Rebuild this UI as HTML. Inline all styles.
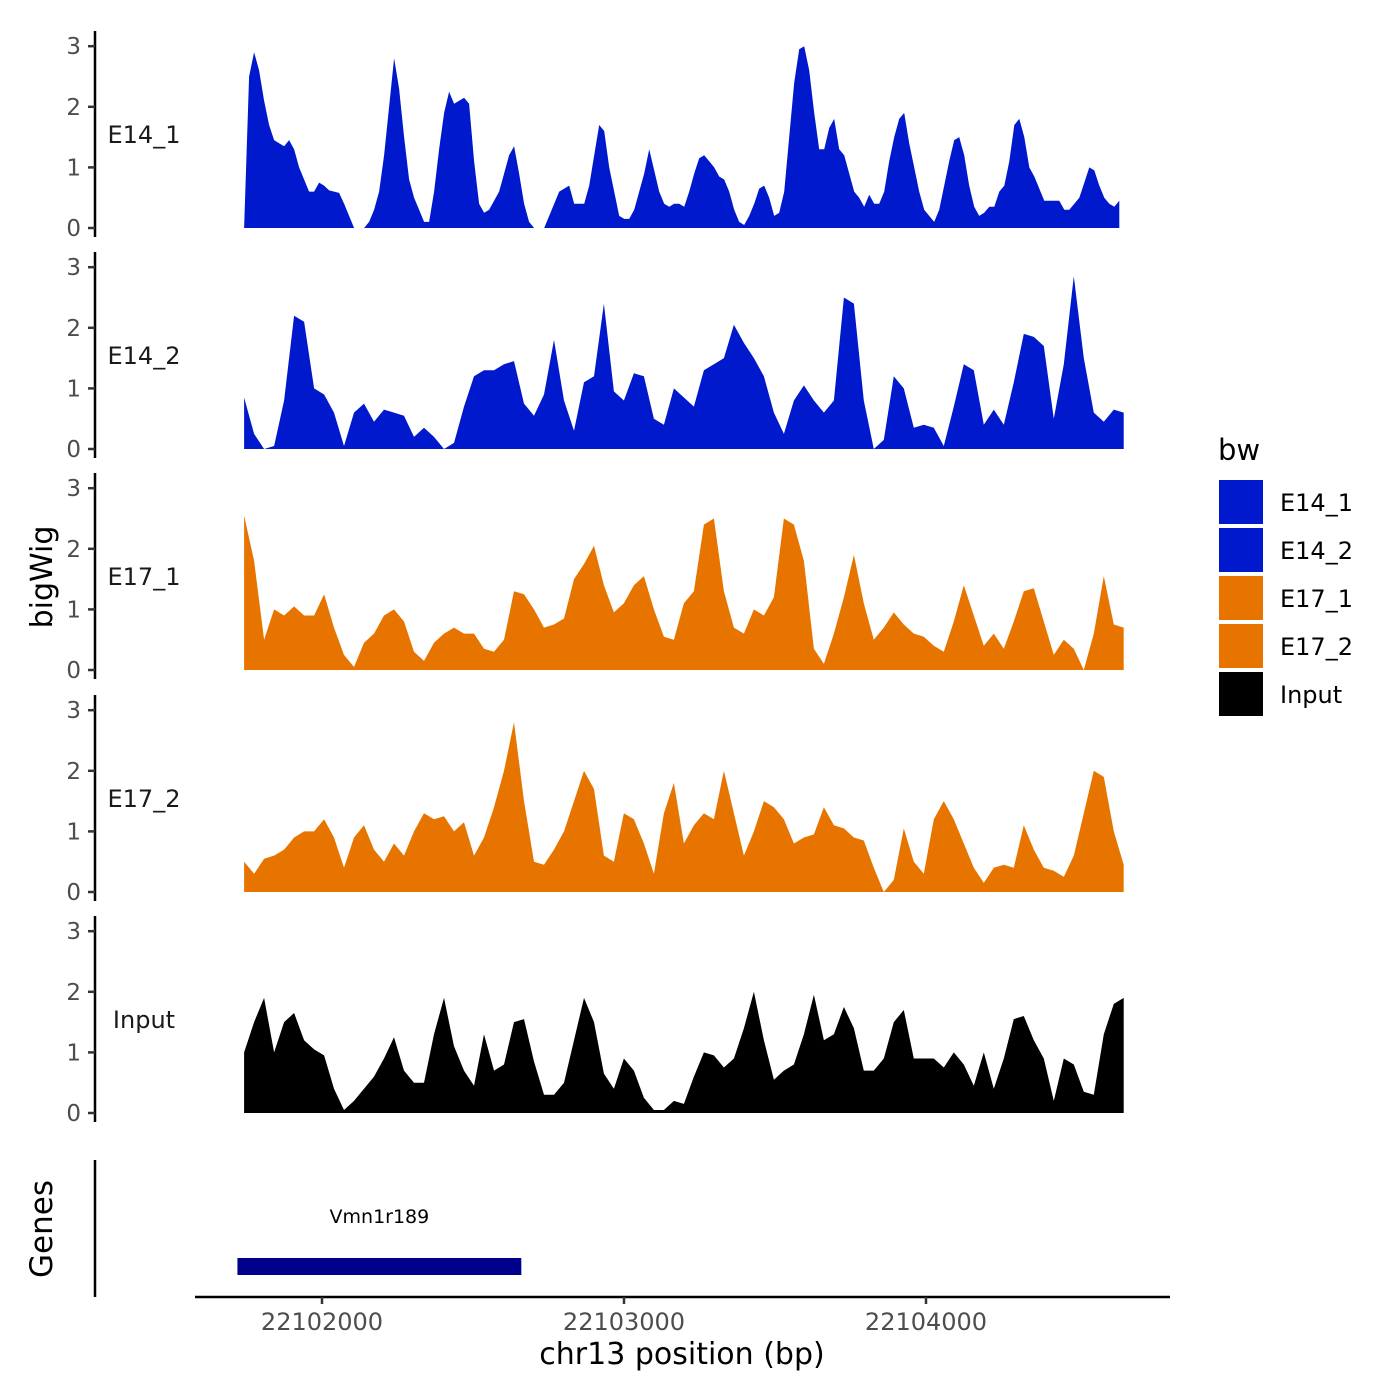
<!DOCTYPE html>
<html><head><meta charset="utf-8"><style>
html,body{margin:0;padding:0;background:#fff;}
svg{display:block;font-family:"DejaVu Sans","Liberation Sans",sans-serif;}
</style></head><body>
<svg id="chart" width="1400" height="1400" viewBox="0 0 1400 1400">
<g id="tracks"></g>
<g id="genes">
  <line x1="95" y1="1160" x2="95" y2="1297" stroke="#000" stroke-width="2.5"/>
  <text x="52" y="1229" font-size="31" text-anchor="middle" transform="rotate(-90 52 1229)" fill="#000">Genes</text>
</g>
<g id="xaxis">
  <line x1="195" y1="1297" x2="1170" y2="1297" stroke="#000" stroke-width="2.5"/>
  <text x="682" y="1364" font-size="30" text-anchor="middle" fill="#000">chr13 position (bp)</text>
</g>
<text x="52" y="577" font-size="30" text-anchor="middle" transform="rotate(-90 52 577)" fill="#000">bigWig</text>
<g id="legend">
  <text x="1218" y="460" font-size="29" fill="#000">bw</text>
</g>
</svg>
<script>
const NS="http://www.w3.org/2000/svg";
const trackNames=["E14_1","E14_2","E17_1","E17_2","Input"];
const trackColors=["#0019CC","#0019CC","#E87400","#E87400","#000000"];
const xTicks=[22102000,22103000,22104000];
const yTicks=[0,1,2,3];
const startBp=22101742;
const stepBp=[16.56,33.1,33.1,33.1,33.1];
const e14_1=[0,2.5,2.9,2.6,2.1,1.7,1.45,1.4,1.35,1.45,1.3,1.0,0.8,0.6,0.6,0.75,0.7,0.62,0.6,0.58,0.4,0.2,0,0,0,0.1,0.3,0.6,1.2,2.0,2.8,2.3,1.5,0.8,0.5,0.3,0.1,0.1,0.6,1.3,1.9,2.25,2.05,2.1,2.15,2.05,1.1,0.4,0.25,0.3,0.45,0.6,0.9,1.2,1.35,0.9,0.4,0.1,0,0,0,0.2,0.4,0.6,0.65,0.7,0.4,0.4,0.4,0.7,1.2,1.7,1.6,1.0,0.6,0.2,0.15,0.15,0.3,0.6,0.9,1.3,0.95,0.6,0.4,0.35,0.4,0.4,0.35,0.6,0.9,1.15,1.2,1.1,1.0,0.85,0.8,0.6,0.3,0.1,0.05,0.2,0.4,0.65,0.7,0.5,0.2,0.25,0.6,1.5,2.4,2.95,3.0,2.6,1.9,1.3,1.3,1.65,1.8,1.3,1.2,0.9,0.6,0.5,0.35,0.55,0.4,0.4,0.6,1.1,1.5,1.8,1.9,1.4,1.0,0.6,0.3,0.2,0.1,0.3,0.7,1.1,1.45,1.5,1.2,0.7,0.35,0.2,0.25,0.35,0.35,0.6,0.7,1.1,1.7,1.8,1.5,1.0,0.85,0.65,0.45,0.45,0.45,0.45,0.3,0.3,0.4,0.5,0.75,1.0,0.95,0.7,0.5,0.4,0.35,0.45];
const e14_2=[0.85,0.25,0,0.05,0.8,2.2,2.1,1.0,0.9,0.6,0.05,0.6,0.75,0.45,0.65,0.6,0.55,0.2,0.35,0.2,0,0.1,0.7,1.2,1.3,1.3,1.4,1.45,0.75,0.55,0.9,1.8,0.8,0.3,1.1,1.2,2.4,0.95,0.8,1.25,1.2,0.5,0.4,1.0,0.85,0.7,1.3,1.4,1.5,2.05,1.75,1.5,1.2,0.6,0.25,0.8,1.05,0.8,0.6,0.8,2.5,2.4,0.8,0,0.15,1.2,1.0,0.35,0.4,0.35,0.05,0.7,1.4,1.3,0.4,0.65,0.4,1.1,1.9,1.85,1.7,0.5,1.4,2.85,1.5,0.6,0.45,0.65,0.6];
const e17_1=[2.55,1.8,0.5,1.0,0.9,1.05,0.9,0.9,1.25,0.7,0.25,0.05,0.45,0.6,0.9,1.0,0.8,0.3,0.15,0.45,0.6,0.7,0.6,0.6,0.35,0.3,0.5,1.3,1.25,1.0,0.7,0.75,0.85,1.5,1.75,2.05,1.4,0.95,1.1,1.4,1.55,1.0,0.55,0.5,1.1,1.3,2.4,2.5,1.3,0.7,0.6,1.0,0.9,1.2,2.5,2.4,1.8,0.35,0.1,0.6,1.2,1.9,1.1,0.5,0.7,0.95,0.75,0.6,0.55,0.4,0.3,0.8,1.4,0.9,0.4,0.6,0.35,0.8,1.3,1.35,0.8,0.25,0.5,0.35,0,0.6,1.55,0.75,0.7];
const e17_2=[0.5,0.3,0.55,0.6,0.7,0.9,1.0,1.0,1.2,0.9,0.4,0.9,1.1,0.7,0.5,0.8,0.6,1.0,1.3,1.2,1.25,1.0,1.15,0.6,0.9,1.4,2.0,2.8,1.5,0.5,0.45,0.7,1.0,1.5,2.0,1.7,0.6,0.5,1.3,1.2,0.8,0.3,1.3,1.8,0.8,1.1,1.3,1.2,2.0,1.3,0.6,1.0,1.5,1.4,1.2,0.8,0.9,0.95,1.4,1.1,1.05,0.9,0.85,0.4,0,0.2,1.05,0.5,0.3,1.2,1.5,1.2,0.8,0.4,0.15,0.4,0.45,0.4,1.1,0.7,0.4,0.35,0.25,0.6,1.3,2.0,1.9,1.0,0.45];
const input=[1.0,1.5,1.9,1.0,1.5,1.65,1.2,1.05,0.95,0.4,0.05,0.2,0.4,0.6,0.9,1.25,0.7,0.5,0.5,1.3,1.9,1.1,0.7,0.45,1.3,0.7,0.8,1.5,1.55,0.85,0.3,0.3,0.5,1.2,1.9,1.5,0.65,0.4,0.9,0.7,0.25,0.05,0.05,0.2,0.15,0.6,1.0,0.95,0.75,0.9,1.4,2.0,1.2,0.55,0.7,0.8,1.3,1.95,1.2,1.3,1.75,1.4,0.7,0.7,0.9,1.5,1.7,0.9,0.9,0.9,0.75,1.0,0.8,0.45,1.0,0.4,0.9,1.55,1.6,1.2,0.9,0.2,0.9,0.8,0.35,0.3,1.3,1.8,1.9];
const trackValues=[e14_1,e14_2,e17_1,e17_2,input];
const geneName="Vmn1r189";
const geneStart=22101720;
const geneEnd=22102660;

const xScale=bp=>322+(bp-22102000)*0.302;
const trackBase=[228,449,670,892,1113];
const unit=60.6;
const yScale=(t,v)=>trackBase[t]-v*unit;

const tracksG=document.getElementById('tracks');
function mk(tag,attrs,parent){const e=document.createElementNS(NS,tag);for(const k in attrs)e.setAttribute(k,attrs[k]);parent.appendChild(e);return e;}

trackNames.forEach((name,t)=>{
  const g=mk('g',{},tracksG);
  
  
  const vals=trackValues[t];
  let d='M'+xScale(startBp).toFixed(1)+','+yScale(t,0);
  vals.forEach((v,i)=>{d+=' L'+xScale(startBp+i*stepBp[t]).toFixed(1)+','+yScale(t,v).toFixed(1);});
  d+=' L'+xScale(startBp+(vals.length-1)*stepBp[t]).toFixed(1)+','+yScale(t,0)+' Z';
  const p=mk('path',{d:d,fill:trackColors[t]},g);
  
  
  const ax=mk('line',{x1:95,x2:95,y1:yScale(t,3.25),y2:trackBase[t]+9,stroke:'#000','stroke-width':2.5},g);
  
  
  yTicks.forEach(v=>{
    const tk=mk('line',{x1:88,x2:95,y1:yScale(t,v),y2:yScale(t,v),stroke:'#333','stroke-width':2.5},g);
    
    
    const tl=mk('text',{x:81,y:yScale(t,v)+8,'font-size':23,'text-anchor':'end',fill:'#4d4d4d'},g);
    tl.textContent=String(v);
    
    
  });
  const lab=mk('text',{x:144,y:trackBase[t]-85,'font-size':24,'text-anchor':'middle',fill:'#1a1a1a'},g);
  lab.textContent=name;
  
  
});

const xg=document.getElementById('xaxis');
xTicks.forEach(v=>{
  const tk=mk('line',{x1:xScale(v),x2:xScale(v),y1:1297,y2:1304,stroke:'#333','stroke-width':2.5},xg);
  
  
  const tl=mk('text',{x:xScale(v),y:1330,'font-size':24,'text-anchor':'middle',fill:'#4d4d4d'},xg);
  tl.textContent=String(v);
  
  
});

const gg=document.getElementById('genes');
const gb=mk('rect',{x:xScale(geneStart),y:1258,width:xScale(geneEnd)-xScale(geneStart),height:17,fill:'#00008B'},gg);


const gl=mk('text',{x:(xScale(geneStart)+xScale(geneEnd))/2,y:1223,'font-size':19,'text-anchor':'middle',fill:'#000'},gg);
gl.textContent=geneName;



const lg=document.getElementById('legend');
trackNames.forEach((name,i)=>{
  const r=mk('rect',{x:1219,y:480+i*48,width:44,height:44,fill:trackColors[i]},lg);
  
  
  const t=mk('text',{x:1280,y:511+i*48,'font-size':24,fill:'#000'},lg);
  t.textContent=name;
  
  
});
</script>
</body></html>
